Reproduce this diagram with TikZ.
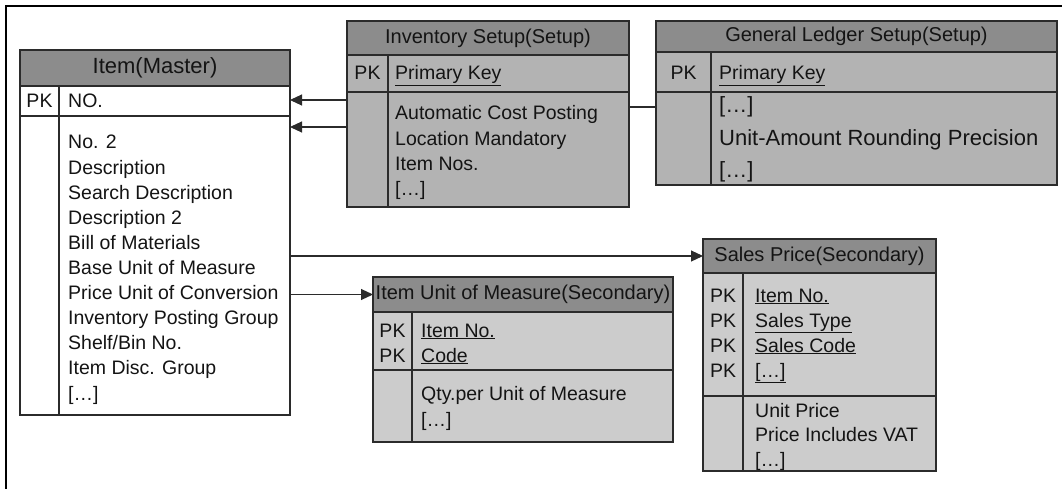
\documentclass[tikz,border=0pt]{standalone}
\usepackage{fontspec}
\setmainfont{Liberation Sans}
\usetikzlibrary{arrows.meta}
\definecolor{hdr}{HTML}{8C8C8C}
\definecolor{setupbody}{HTML}{B3B3B3}
\definecolor{secbody}{HTML}{CCCCCC}
\definecolor{edge}{HTML}{2B2B2B}
\definecolor{ink}{HTML}{141414}
\begin{document}
\begin{tikzpicture}[x=1pt,y=-1pt,
  cell/.style={draw=edge, line width=1.3pt, rectangle, inner sep=0pt, outer sep=0pt, anchor=north west, text=ink},
  hdrcell/.style={cell, fill=hdr, font=\fontsize{20}{24}\selectfont},
  txt/.style={inner sep=0pt, anchor=base west, font=\fontsize{19.5}{24}\selectfont, text=ink},
  bigtxt/.style={txt, font=\fontsize{22}{26}\selectfont},
  pktxt/.style={txt, anchor=base},
  divider/.style={draw=edge, line width=1.3pt},
  conn/.style={draw=edge, line width=1.1pt},
  arr/.style={conn, -{Triangle[length=12pt,width=11pt]}}
]
\useasboundingbox (0,0) rectangle (1062,489);
\fill[white] (0,0) rectangle (1062,489);
% outer frame
\draw[line width=2.5pt, black] (6,489) -- (6,6) -- (1062,6);

% ---------- Item (Master) ----------
\node[hdrcell, minimum width=270pt, minimum height=36pt, font=\fontsize{22}{26}\selectfont] (imH) at (20,50) {Item(Master)};
\node[cell, fill=white, minimum width=270pt, minimum height=30pt] (imP) at (20,86) {};
\node[cell, fill=white, minimum width=270pt, minimum height=299pt] (imB) at (20,116) {};
\draw[divider] ([xshift=39pt]imP.north west) -- ([xshift=39pt]imB.south west);
\node[pktxt] (imPK) at (39.5,108) {PK};
\node[txt] (imNO) at (68,108) {NO.};
\foreach \t [count=\i] in {No. 2, Description, Search Description, Description 2, Bill of Materials, Base Unit of Measure, Price Unit of Conversion, Inventory Posting Group, Shelf/Bin No., Item Disc. Group, {[…]}}
  \node[txt] (im\i) at (68,{149+25.1*(\i-1)}) {\t};

% ---------- Inventory Setup (Setup) ----------
\node[hdrcell, minimum width=282pt, minimum height=34pt] (isH) at (347,21) {Inventory Setup(Setup)};
\node[cell, fill=setupbody, minimum width=282pt, minimum height=37pt] (isP) at (347,55) {};
\node[cell, fill=setupbody, minimum width=282pt, minimum height=115pt] (isB) at (347,92) {};
\draw[divider] ([xshift=41pt]isP.north west) -- ([xshift=41pt]isB.south west);
\node[pktxt] (isPK) at (367.5,80) {PK};
\node[txt] (isKey) at (395,80) {\underline{Primary Key}};
\foreach \t [count=\i] in {Automatic Cost Posting, Location Mandatory, Item Nos., {[…]}}
  \node[txt] (is\i) at (395,{120+25.2*(\i-1)}) {\t};

% ---------- General Ledger Setup (Setup) ----------
\node[hdrcell, minimum width=401pt, minimum height=31pt] (glH) at (656,21) {General Ledger Setup(Setup)};
\node[cell, fill=setupbody, minimum width=401pt, minimum height=40pt] (glP) at (656,52) {};
\node[cell, fill=setupbody, minimum width=401pt, minimum height=93pt] (glB) at (656,92) {};
\draw[divider] ([xshift=55pt]glP.north west) -- ([xshift=55pt]glB.south west);
\node[pktxt] (glPK) at (683.5,80) {PK};
\node[txt] (glKey) at (719,80) {\underline{Primary Key}};
\node[bigtxt] (gl1) at (719,113) {[…]};
\node[bigtxt] (gl2) at (719,146) {Unit-Amount Rounding Precision};
\node[bigtxt] (gl3) at (719,178) {[…]};

% ---------- Item Unit of Measure (Secondary) ----------
\node[hdrcell, minimum width=300pt, minimum height=35pt] (iuH) at (373,277) {Item Unit of Measure(Secondary)};
\node[cell, fill=secbody, minimum width=300pt, minimum height=58pt] (iuP) at (373,312) {};
\node[cell, fill=secbody, minimum width=300pt, minimum height=72pt] (iuB) at (373,370) {};
\draw[divider] ([xshift=39pt]iuP.north west) -- ([xshift=39pt]iuB.south west);
\node[pktxt] (iuPK1) at (392.5,337) {PK};
\node[pktxt] (iuPK2) at (392.5,362) {PK};
\node[txt] (iuK1) at (421,337) {\underline{Item No.}};
\node[txt] (iuK2) at (421,362) {\underline{Code}};
\node[txt] (iu1) at (421,400) {Qty.per Unit of Measure};
\node[txt] (iu2) at (421,426) {[…]};

% ---------- Sales Price (Secondary) ----------
\node[hdrcell, minimum width=233pt, minimum height=34pt] (spH) at (703,239) {Sales Price(Secondary)};
\node[cell, fill=secbody, minimum width=233pt, minimum height=123pt] (spP) at (703,273) {};
\node[cell, fill=secbody, minimum width=233pt, minimum height=75pt] (spB) at (703,396) {};
\draw[divider] ([xshift=40pt]spP.north west) -- ([xshift=40pt]spB.south west);
\foreach \t [count=\i] in {Item No., Sales Type, Sales Code, {[…]}}{
  \node[pktxt] (spPK\i) at (723,{302+25*(\i-1)}) {PK};
  \node[txt] (spK\i) at (755,{302+25*(\i-1)}) {\underline{\t}};
}
\foreach \t [count=\i] in {Unit Price, Price Includes VAT, {[…]}}
  \node[txt] (sp\i) at (755,{417+24.8*(\i-1)}) {\t};

% ---------- connectors ----------
\draw[arr] ([yshift=-8pt]isB.north west) -- ([yshift=-14pt]imP.north east);
\draw[arr] ([yshift=-35pt]isB.north west) -- ([yshift=-11pt]imB.north east);
\draw[conn] ([yshift=-15pt]isB.north east) -- ([yshift=-15pt]glB.north west);
\draw[arr] (imB.east |- spH.west) -- (spH.west);
\draw[arr] (imB.east |- iuH.west) -- (iuH.west);
\end{tikzpicture}
\end{document}
